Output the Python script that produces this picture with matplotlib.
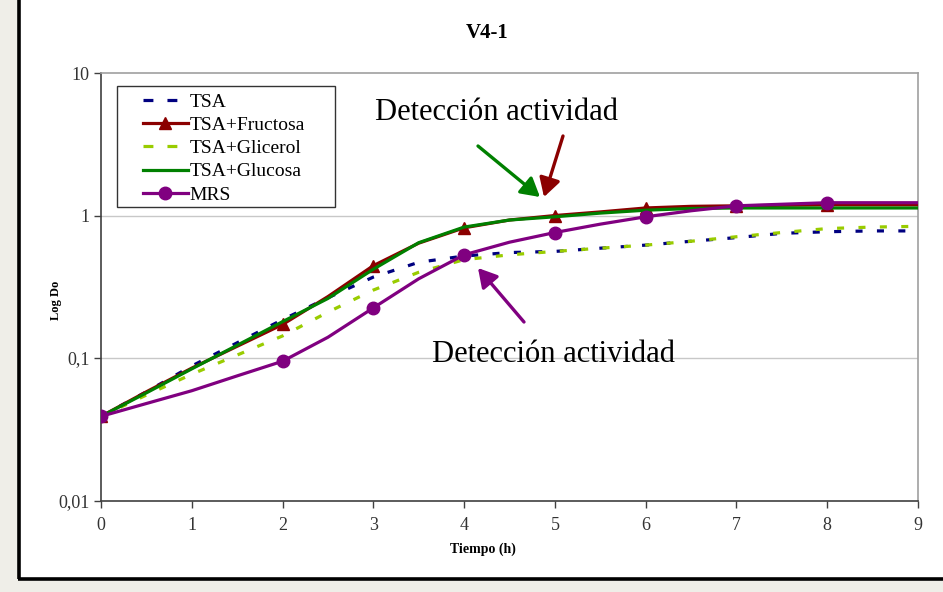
import matplotlib
matplotlib.use("Agg")
import matplotlib.pyplot as plt
from matplotlib.patches import Rectangle, FancyArrowPatch
from matplotlib.lines import Line2D
from matplotlib.ticker import FixedLocator, FixedFormatter

# ---- data ----
tiempo = [0, 0.5, 1, 1.5, 2, 2.5, 3, 3.5, 4, 4.5, 5, 5.5, 6, 6.5, 7, 7.5, 8, 8.5, 9]
tsa = [0.039, 0.058, 0.088, 0.128, 0.186, 0.265, 0.37, 0.47, 0.52, 0.55, 0.56,
       0.59, 0.62, 0.66, 0.70, 0.75, 0.77, 0.78, 0.78]
tsa_fructosa = [0.039, 0.058, 0.085, 0.121, 0.172, 0.27, 0.445, 0.64, 0.82, 0.93, 1.0,
                1.06, 1.13, 1.16, 1.17, 1.18, 1.19, 1.19, 1.19]
tsa_glicerol = [0.039, 0.055, 0.077, 0.105, 0.143, 0.21, 0.30, 0.40, 0.49, 0.53, 0.56,
                0.59, 0.62, 0.66, 0.71, 0.76, 0.81, 0.83, 0.84]
tsa_glucosa = [0.039, 0.057, 0.084, 0.123, 0.18, 0.262, 0.42, 0.645, 0.83, 0.93, 0.98,
               1.04, 1.09, 1.12, 1.13, 1.13, 1.13, 1.13, 1.13]
mrs = [0.039, 0.048, 0.059, 0.075, 0.095, 0.14, 0.225, 0.36, 0.53, 0.65, 0.76,
       0.87, 0.98, 1.08, 1.17, 1.20, 1.23, 1.23, 1.23]
marker_idx = [0, 4, 6, 8, 10, 12, 14, 16]   # markers at hours 0,2,3,4,5,6,7,8

series_names = ["TSA", "TSA+Fructosa", "TSA+Glicerol", "TSA+Glucosa", "MRS"]
x_ticks = [0, 1, 2, 3, 4, 5, 6, 7, 8, 9]
y_ticks = [0.01, 0.1, 1, 10]
y_tick_labels = ["0,01", "0,1", "1", "10"]
title = "V4-1"
x_label = "Tiempo (h)"
y_label = "Log Do"
annot_text = "Detección actividad"

serif = ["Liberation Serif", "DejaVu Serif"]
W, H = 943.0, 592.0

fig = plt.figure(figsize=(9.43, 5.92), dpi=100)
fig.patch.set_facecolor("#EFEEE8")

# white panel with dark left/bottom border
fig.add_artist(Rectangle((18 / W, 1 - 578 / H), 1.0, 1.0, transform=fig.transFigure,
                         facecolor="white", edgecolor="none", zorder=0))
fig.add_artist(Line2D([19 / W, 19 / W], [1 - 579 / H, 1.01], transform=fig.transFigure,
                      color="black", lw=2.6, solid_capstyle="butt"))
fig.add_artist(Line2D([17.5 / W, 1.01], [1 - 578.5 / H, 1 - 578.5 / H], transform=fig.transFigure,
                      color="black", lw=2.6, solid_capstyle="butt"))

ax = fig.add_axes([101 / W, 1 - 500.6 / H, 817 / W, 427.6 / H])
ax.set_facecolor("white")
ax.set_yscale("log")
ax.set_xlim(0, 9)
ax.set_ylim(0.01, 10)

ax.yaxis.set_major_locator(FixedLocator(y_ticks))
ax.yaxis.set_major_formatter(FixedFormatter(y_tick_labels))
ax.yaxis.set_minor_locator(FixedLocator([]))
ax.set_xticks(x_ticks)
ax.set_xticklabels([str(v) for v in x_ticks])

for yv in [0.1, 1]:
    ax.axhline(yv, color="#C8C8C8", lw=1.0, zorder=1)

lw = 2.3
ax.plot(tiempo, tsa, color="#000080", lw=lw, dashes=(2.2, 4.5), label=series_names[0], zorder=3)
ax.plot(tiempo, tsa_fructosa, color="#8B0000", lw=lw, marker="^", markersize=8,
        markevery=marker_idx, label=series_names[1], zorder=4)
ax.plot(tiempo, tsa_glicerol, color="#99CC00", lw=lw, dashes=(2.2, 4.5), label=series_names[2], zorder=3)
ax.plot(tiempo, tsa_glucosa, color="#008000", lw=lw, label=series_names[3], zorder=5)
ax.plot(tiempo, mrs, color="#800080", lw=lw, marker="o", markersize=9,
        markevery=marker_idx, label=series_names[4], zorder=6)

for s in ["left", "bottom"]:
    ax.spines[s].set_color("#404040")
    ax.spines[s].set_linewidth(1.2)
for s in ["top", "right"]:
    ax.spines[s].set_color("#A0A0A0")
    ax.spines[s].set_linewidth(1.2)

ax.tick_params(axis="both", which="major", direction="out", length=5, width=1.0,
               color="#404040", labelcolor="#333333", labelsize=13)
ax.tick_params(axis="x", pad=7)
ax.tick_params(axis="y", pad=3)
for lab in ax.get_xticklabels() + ax.get_yticklabels():
    lab.set_family(serif)

ax.set_ylabel(y_label, family=serif, fontweight="bold", fontsize=9)
ax.yaxis.set_label_coords((62 - 101) / 817, (500.6 - 300) / 427.6)
fig.text(483 / W, 1 - 549 / H, x_label, family=serif, fontweight="bold", fontsize=10,
         ha="center", va="center")
fig.text(487 / W, 1 - 33 / H, title, family=serif, fontweight="bold", fontsize=15,
         ha="center", va="center")

# legend: frame drawn separately
ax.add_patch(Rectangle((117 / W, 1 - 207 / H), 218 / W, 121 / H, transform=fig.transFigure,
                       facecolor="white", edgecolor="#333333", lw=1.0, zorder=15, clip_on=False))
leg = ax.legend(loc="upper left", bbox_to_anchor=(143 / W, 1 - 93 / H),
                bbox_transform=fig.transFigure,
                prop={"family": serif, "size": 14}, frameon=False,
                handlelength=2.3, handletextpad=0.1, borderpad=0, labelspacing=0.29,
                borderaxespad=0)
leg.set_zorder(20)
for h in leg.get_lines():
    if h.get_linestyle() != "-":
        h.set_dashes((3.1, 4.4))

# annotations
fig.text(497 / W, 1 - 112 / H, annot_text, family=serif, fontsize=22, ha="center", va="center")
fig.text(553 / W, 1 - 355 / H, annot_text, family=serif, fontsize=22, ha="center", va="center")

def fig_arrow(x0, y0, x1, y1, color):
    fig.add_artist(FancyArrowPatch(
        (x0 / W, 1 - y0 / H), (x1 / W, 1 - y1 / H), transform=fig.transFigure,
        arrowstyle="-|>,head_length=7,head_width=4", color=color, lw=2.4,
        mutation_scale=1.6, shrinkA=0, shrinkB=0, zorder=10))

fig_arrow(478, 146, 540, 197, "#008000")
fig_arrow(563, 136, 544, 197, "#8B0000")
fig_arrow(524, 322, 478, 268, "#800080")

fig.savefig("out.png", dpi=100, facecolor=fig.get_facecolor())
